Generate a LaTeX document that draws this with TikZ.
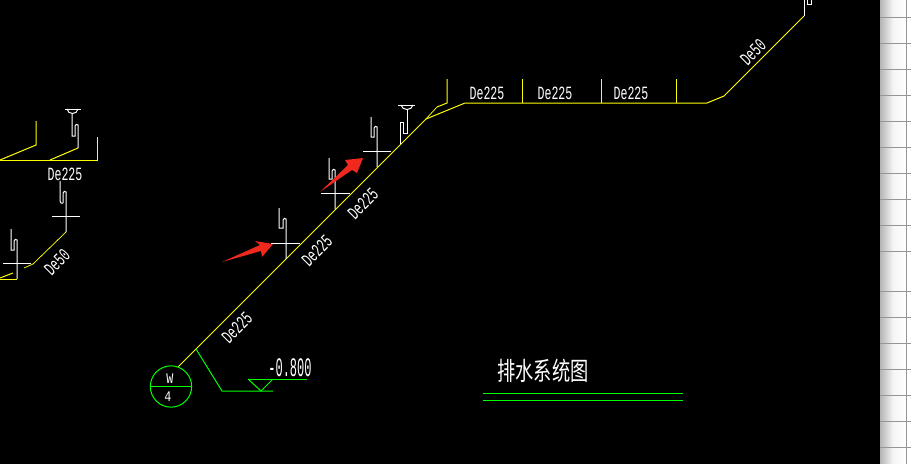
\documentclass[tikz,border=0pt]{standalone}
\usepackage{fontspec}
\setmainfont{Liberation Mono}
\newfontfamily\cjkfont{Noto Sans CJK SC}
\usepackage{tikz}
\usetikzlibrary{calc,positioning}
\definecolor{myYellow}{RGB}{255,255,0}
\definecolor{myGreen}{RGB}{0,255,0}
\definecolor{myRed}{RGB}{240,40,30}
\definecolor{myGrid}{RGB}{150,150,150}
\newcommand{\cadlabel}[1]{\scalebox{0.62}[1]{#1}}
% one pixel of the reference is one unit
\tikzset{
  x=0.75pt,y=-0.75pt,
  pipe/.style={draw=myYellow,line width=0.75pt},
  thin pipe/.style={draw=myYellow,line width=0.55pt},
  riser/.style={draw=white,line width=0.75pt},
  mark line/.style={draw=myGreen,line width=0.75pt},
  pipelabel/.style={text=white,font=\fontsize{14}{16}\selectfont,inner sep=0},
  redarrow/.style={fill=myRed,draw=none},
}
\begin{document}
\begin{tikzpicture}
    \useasboundingbox (0,0) rectangle (911,464);
    \fill [black] (0,0) rectangle (880,464);
    % scroll bar
    \shade [left color=myGrid!70,right color=white,middle color=myGrid!10!white] (880,0) rectangle (906,464);
    \fill [white] (906,0) rectangle (911,464);
    \foreach \gridy in {17,43,...,251,291,317,...,447} {
      \draw [myGrid,line width=0.75pt] (880,\gridy) -- (911,\gridy);
    }
    \draw [myGrid,line width=0.75pt] (906,0) -- (906,464);

    % main pipe
    \coordinate (pipeStart) at (178,367);
    \coordinate (pipeBend) at (426,119);
    \coordinate (pipeTop) at (465,103);
    \coordinate (pipeEnd) at (707,103);
    \coordinate (pipeKnee) at (724,96);
    \coordinate (pipeFar) at (804,16);
    \path [thin pipe] (pipeStart) -- (pipeBend);
    \path [pipe] (pipeBend) -- (pipeTop) -- (pipeEnd) -- (pipeKnee);
    \path [thin pipe] (pipeKnee) -- (pipeFar);
    \draw [riser] (pipeFar) -- (804,0);
    \draw [riser] (807,0) -- (807,4) -- (811,4) -- (811,0);
    \path [thin pipe] (pipeBend) -- (437,107);
    \path [pipe] (437,107) -- (447,103) -- (447,79);
    \path [pipe] (522,103) -- (522,79);
    \path [pipe] (601,103) -- (601,79);
    \path [pipe] (676,103) -- (676,79);

    % left pieces
    \path [pipe] (0,160) -- (97,160) -- (97,137);
    \path [pipe] (0,160) -- (36,145) -- (36,121);
    \path [pipe] (50,160) -- (78,148);
    \draw [riser] (78,148) -- (78,125) .. controls (78,124) and (75,124) .. (75,126) -- (75,136) -- (72,136) -- (72,114);
    \draw [riser] (65,109) -- (81,109);
    \draw [riser] (67,109) .. controls (68,115) and (77,115) .. (78,109);
    \draw [riser] (52,216) -- (80,216);
    \draw [riser] (66,232) -- (66,192) .. controls (66,191) and (63,191) .. (63,193) -- (63,203);
    \draw [riser] (63,203) .. controls (62,204) and (60,203) .. (60,201) -- (60,181);
    \draw [riser] (3,263) -- (31,263);
    \draw [riser] (17,279) -- (17,240) .. controls (17,239) and (14,239) .. (14,241) -- (14,250) -- (11,250) -- (11,229);
    \path [thin pipe] (66,232) -- (33,264) -- (24,268);
    \path [pipe] (0,279) -- (17,279);
    \path [pipe] (0,278) -- (13,273);

    % risers on the main pipe
    \draw [riser] (286,259) -- (286,219) .. controls (286,218) and (283,218) .. (283,220) -- (283,228) -- (279,228) -- (279,208);
    \draw [riser] (271,243) -- (300,243);
    \draw [riser] (335,209) -- (335,170) .. controls (335,169) and (332,169) .. (332,171) -- (332,179) -- (329,179) -- (329,158);
    \draw [riser] (321,193) -- (350,193);
    \draw [riser] (377,167) -- (377,127) .. controls (377,126) and (374,126) .. (374,128) -- (374,137) -- (371,137) -- (371,117);
    \draw [riser] (363,151) -- (391,151);
    \draw [riser] (400,144) -- (400,122) -- (403,122) -- (403,133) -- (407,133) -- (407,110);
    \draw [riser] (398,105) -- (415,105);
    \draw [riser] (401,105) .. controls (402,111) and (412,111) .. (413,105);

    % red arrows
    \path [redarrow] (222,262) -- (260,245) -- (255,241) -- (273,244) -- (262,257) -- (261,251) -- cycle;
    \path [redarrow] (320,192) -- (348,165) -- (345,160) -- (363,158) -- (357,173) -- (352,170) -- cycle;

    % pipe labels
    \node (labelA) [pipelabel] at (487,93) {\cadlabel{De225}};
    \node (labelB) [pipelabel] at (555,93) {\cadlabel{De225}};
    \node (labelC) [pipelabel] at (631,93) {\cadlabel{De225}};
    \node (labelD) [pipelabel] at (65,174) {\cadlabel{De225}};
    \node (labelE) [pipelabel,rotate=45] at (363,204) {\cadlabel{De225}};
    \node (labelF) [pipelabel,rotate=45] at (317,251) {\cadlabel{De225}};
    \node (labelG) [pipelabel,rotate=45] at (237,328) {\cadlabel{De225}};
    \node (labelH) [pipelabel,rotate=45] at (753,52) {\cadlabel{De50}};
    \node (labelI) [pipelabel,rotate=45] at (57,262) {\cadlabel{De50}};

    % well symbol
    \node (well) [circle,draw=myGreen,line width=0.75pt,minimum size=31pt,inner sep=0] at (171,386.5) {};
    \draw [myGreen,line width=0.75pt] (well.west) -- (well.east);
    \node (wellTop) [text=white,font=\fontsize{11}{12}\selectfont,inner sep=0] at (170,379) {\scalebox{0.8}[1]{W}};
    \node (wellBottom) [text=white,font=\fontsize{11}{12}\selectfont,inner sep=0] at (168,397) {\scalebox{0.8}[1]{4}};

    % level mark
    \coordinate (levelStart) at (196,349);
    \path [mark line] (levelStart) -- (222,391) -- (273,391);
    \path [mark line] (248,379) -- (307,379);
    \path [mark line] (248,379) -- (261,391) -- (273,379);
    \node (level) [text=white,font=\fontsize{20}{22}\selectfont,inner sep=0] at (290,368) {\scalebox{0.45}[1]{-0.800}};

    % title
    \node (title) [text=white,font=\cjkfont\fontsize{19}{22}\selectfont,inner sep=0] at (543,371) {\scalebox{0.72}[1]{排水系统图}};
    \coordinate (titleL) at (483,393);
    \coordinate (titleR) at (683,393);
    \path [mark line] (titleL) -- (titleR);
    \path [mark line] ($(titleL)+(0,7)$) -- ($(titleR)+(0,7)$);
\end{tikzpicture}
\end{document}
